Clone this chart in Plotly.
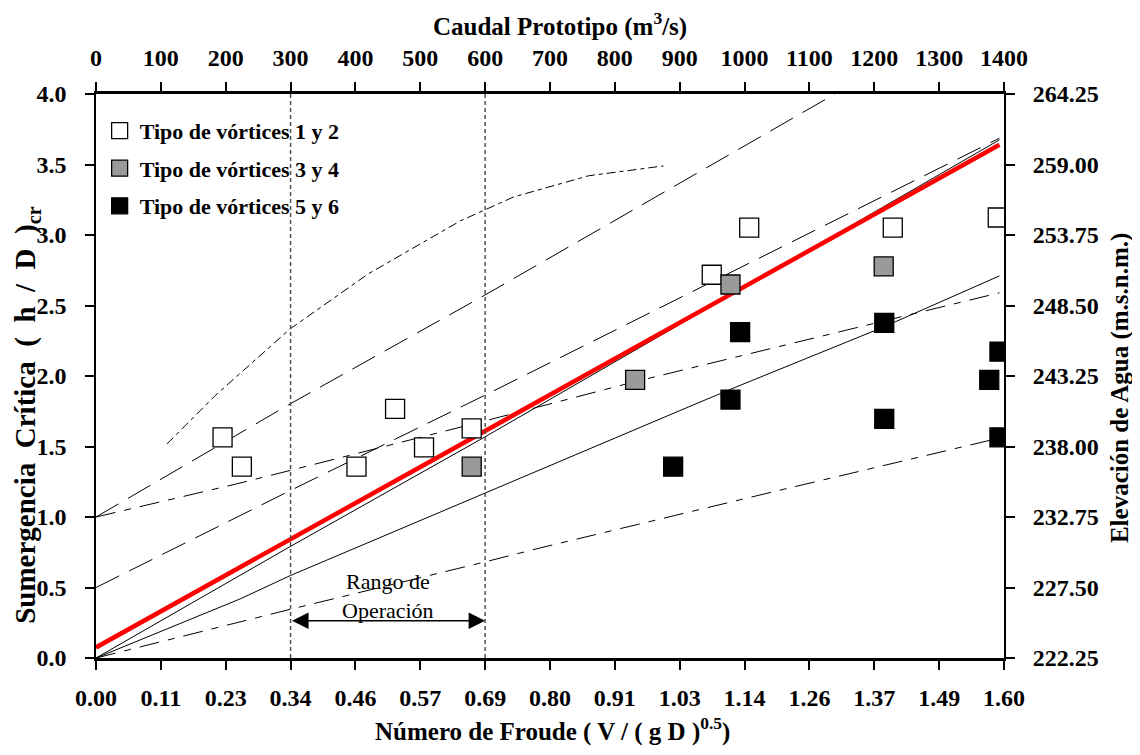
import numpy as np
import plotly.graph_objects as go

# ---------------- data ----------------
froude_ticktext = ["0.00", "0.11", "0.23", "0.34", "0.46", "0.57", "0.69", "0.80",
                   "0.91", "1.03", "1.14", "1.26", "1.37", "1.49", "1.60"]
froude_max = 1.6
caudal_max = 1400
elev_min, elev_max, elev_step = 222.25, 264.25, 5.25

# Operating range (m3/s)
op_range = [300, 600]

# Vortex observations
v12_x = [0.223, 0.257, 0.459, 0.527, 0.578, 0.662, 1.085, 1.151, 1.404, 1.589]
v12_y = [1.565, 1.357, 1.357, 1.767, 1.494, 1.629, 2.718, 3.053, 3.053, 3.124]

v34_x = [0.662, 0.950, 1.118, 1.388]
v34_y = [1.357, 1.973, 2.649, 2.777]

v56_x = [1.017, 1.118, 1.135, 1.389, 1.389, 1.574, 1.592, 1.592]
v56_y = [1.357, 1.833, 2.311, 2.377, 1.696, 1.973, 2.173, 1.565]

# Reference curves
red_x = [0.0, 1.592]
red_y = [0.075, 3.640]

solidA_x = [0.0, 0.342, 0.684, 1.100, 1.592]
solidA_y = [0.0, 0.790, 1.565, 2.530, 3.675]

solidB_x = [0.0, 0.254, 0.342, 0.684, 0.782, 1.029, 1.120, 1.387, 1.592]
solidB_y = [0.0, 0.419, 0.584, 1.164, 1.334, 1.755, 1.909, 2.346, 2.710]

longdash1_x = [0.0, 0.342, 0.684, 1.302]
longdash1_y = [1.0, 1.802, 2.571, 4.0]

longdash05_x = [0.0, 0.342, 0.684, 1.592]
longdash05_y = [0.5, 1.187, 1.861, 3.687]

dashdotD_x = [0.0, 0.248, 0.342, 0.684, 0.950, 1.258, 1.592]
dashdotD_y = [1.0, 1.235, 1.330, 1.680, 1.960, 2.263, 2.590]

dashdotE_x = [0.0, 0.342, 0.684, 0.782, 1.205, 1.592]
dashdotE_y = [0.0, 0.345, 0.680, 0.780, 1.190, 1.560]

curve_x = [0.125, 0.210, 0.342, 0.480, 0.642, 0.686, 0.736, 0.868, 1.000]
curve_y = [1.518, 1.861, 2.334, 2.725, 3.100, 3.180, 3.270, 3.420, 3.490]

# ---------------- figure ----------------
FONT = "Liberation Serif, Times New Roman, serif"
fig = go.Figure()

def add_line(x, y, dash, width=1.0, color="black"):
    fig.add_trace(go.Scatter(x=x, y=y, mode="lines", showlegend=False, hoverinfo="skip",
                             line=dict(color=color, width=width, dash=dash)))

add_line(curve_x, curve_y, "9px,4px,4px,4px")
add_line(longdash1_x, longdash1_y, "26px,11px")
add_line(longdash05_x, longdash05_y, "26px,11px")
add_line(dashdotD_x, dashdotD_y, "20px,9px,7px,9px")
add_line(dashdotE_x, dashdotE_y, "20px,9px,7px,9px")
add_line(solidA_x, solidA_y, "solid")
add_line(solidB_x, solidB_y, "solid")

# operating range vertical lines (on caudal axis)
for q in op_range:
    fig.add_trace(go.Scatter(x=[q, q], y=[0, 4], xaxis="x2", yaxis="y", mode="lines",
                             showlegend=False, hoverinfo="skip",
                             line=dict(color="#505050", width=1.5, dash="4px,3px")))

add_line(red_x, red_y, "solid", width=4.5, color="#ff0000")

msize = 19
fig.add_trace(go.Scatter(x=v12_x, y=v12_y, mode="markers", name="Tipo de vórtices 1 y 2",
                         legendgroup="a",
                         marker=dict(symbol="square", size=msize, color="white",
                                     line=dict(color="black", width=1.3))))
fig.add_trace(go.Scatter(x=v34_x, y=v34_y, mode="markers", name="Tipo de vórtices 3 y 4",
                         legendgroup="b",
                         marker=dict(symbol="square", size=msize, color="#9a9a9a",
                                     line=dict(color="black", width=1.3))))
fig.add_trace(go.Scatter(x=v56_x, y=v56_y, mode="markers", name="Tipo de vórtices 5 y 6",
                         legendgroup="c",
                         marker=dict(symbol="square", size=msize, color="black",
                                     line=dict(color="black", width=1.3))))

# dummy trace to activate right axis
fig.add_trace(go.Scatter(x=[None], y=[None], yaxis="y2", showlegend=False, hoverinfo="skip"))

tickfont = dict(family=FONT, size=24, color="black", weight="bold")
titlefont = dict(family=FONT, size=25, color="black", weight="bold")

fig.update_layout(
    width=1124, height=739,
    margin=dict(l=88, r=128, t=86, b=89),
    paper_bgcolor="white", plot_bgcolor="white",
    xaxis=dict(range=[0, froude_max], tickvals=list(np.linspace(0, froude_max, len(froude_ticktext))),
               ticktext=froude_ticktext, ticks="outside", ticklen=9, tickwidth=1.5,
               tickcolor="black", showline=True, linecolor="black", linewidth=2.5,
               showgrid=False, zeroline=False, tickfont=tickfont, ticklabelstandoff=7),
    xaxis2=dict(range=[0, caudal_max], dtick=100, overlaying="x", side="top", anchor="y",
                ticks="outside", ticklen=9, tickwidth=1.5, tickcolor="black",
                showline=True, linecolor="black", linewidth=2.5,
                showgrid=False, zeroline=False, tickfont=tickfont, ticklabelstandoff=7),
    yaxis=dict(range=[0, 4], dtick=0.5, tickformat=".1f", ticks="outside", ticklen=9,
               tickwidth=1.5, tickcolor="black", showline=True, linecolor="black",
               linewidth=1.5, showgrid=False, zeroline=False, tickfont=tickfont,
               ticklabelstandoff=14),
    yaxis2=dict(range=[elev_min, elev_max], dtick=elev_step, tick0=elev_min, tickformat=".2f",
                overlaying="y", side="right", anchor="x", ticks="outside", ticklen=9,
                tickwidth=1.5, tickcolor="black", showline=True, linecolor="black",
                linewidth=2, showgrid=False, zeroline=False, tickfont=tickfont,
                ticklabelstandoff=13),
    legend=dict(x=0.004, y=0.972, xanchor="left", yanchor="top", bgcolor="rgba(0,0,0,0)",
                font=dict(family=FONT, size=22, color="black", weight="bold"),
                tracegroupgap=6),
    showlegend=True,
)

annotations = [
    dict(text="Caudal Prototipo (m<sup>3</sup>/s)", xref="paper", yref="paper",
         x=0.5105, y=1.124, showarrow=False, font=titlefont, xanchor="center", yanchor="middle"),
    dict(text="Número de Froude ( V / ( g D )<sup>0.5</sup>)", xref="paper", yref="paper",
         x=0.503, y=-0.126, showarrow=False, font=dict(family=FONT, size=25, color="black", weight="bold"),
         xanchor="center", yanchor="middle"),
    dict(text="Sumergencia&nbsp; Crítica&nbsp; (&nbsp; h &nbsp;/&nbsp; D &nbsp;)<sub>cr</sub>",
         xref="paper", yref="paper", x=-0.0755, y=0.432, showarrow=False,
         font=dict(family=FONT, size=29, color="black", weight="bold"), textangle=-90,
         xanchor="center", yanchor="middle"),
    dict(text="Elevación de Agua (m.s.n.m.)", xref="paper", yref="paper",
         x=1.1285, y=0.478, showarrow=False, font=titlefont, textangle=-90,
         xanchor="center", yanchor="middle"),
    dict(text="Rango de<br>Operación", xref="x2", yref="y", x=sum(op_range) / 2, y=0.44,
         showarrow=False, font=dict(family=FONT, size=22, color="black")),
    dict(text="", xref="x2", yref="y", x=op_range[1], y=0.265, axref="x2", ayref="y",
         ax=op_range[0], ay=0.265, showarrow=True, arrowside="end+start", arrowhead=2,
         arrowsize=2.2, arrowwidth=1.5, arrowcolor="black", standoff=0, startstandoff=0),
]
fig.update_layout(annotations=annotations)

fig.write_html("out.html")
